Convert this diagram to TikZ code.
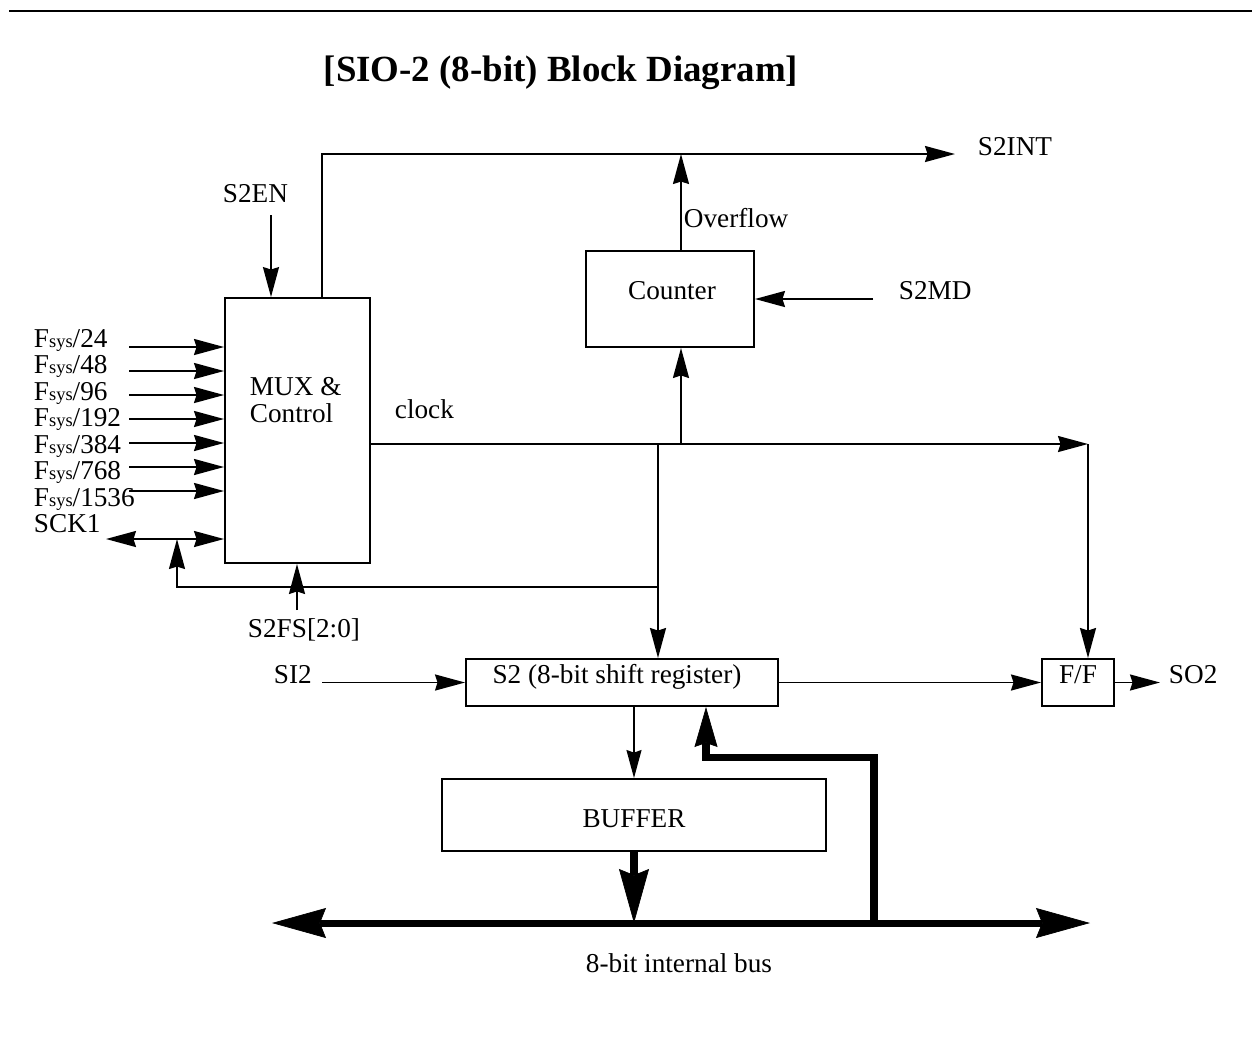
\documentclass[tikz,border=0pt]{standalone}
\usepackage{fontspec}
\setmainfont{Liberation Serif}
\usetikzlibrary{arrows.meta, positioning}
\newcommand{\Fsys}{F{\fontsize{10.5}{12}\selectfont sys}}
\tikzset{
  sighead/.tip={Stealth[length=0.6cm, width=0.32cm, inset=0.05cm]},
  bushead/.tip={Stealth[length=1.08cm, width=0.6cm, inset=0.12cm, line width=0.4pt]},
  rethead/.tip={Stealth[length=0.8cm, width=0.46cm, inset=0.08cm, line width=0.4pt]}
}

\begin{document}
\begin{tikzpicture}[x=0.02cm, y=-0.02cm, line width=1.1pt,
    block/.style={rectangle, draw, line width=1.1pt, inner sep=0pt},
    txt/.style={font=\fontsize{15.5}{18}\selectfont, inner sep=0pt, anchor=base west},
    sig/.style={-sighead},
    thinsig/.style={line width=0.8pt, -{Stealth[length=0.56cm, width=0.3cm, inset=0.05cm]}},
    bus/.style={line width=4pt}
  ]
  \useasboundingbox (0,0) rectangle (1252,1036);

  % rule and title
  \coordinate (rulel) at (9,11);
  \coordinate (ruler) at (1252,11);
  \draw[line width=1pt] (rulel) -- (ruler);
  \node[font=\fontsize{21}{24}\selectfont\bfseries, inner sep=0pt, anchor=base] (title) at (561,81) {[SIO-2 (8-bit) Block Diagram]};

  % blocks
  \node[block, minimum width=2.9cm, minimum height=5.3cm] (mux) at (297.5,430.5) {};
  \node[block, minimum width=3.36cm, minimum height=1.92cm] (counter) at (670,299) {};
  \node[block, minimum width=6.24cm, minimum height=0.94cm] (sreg) at (622,682.5) {};
  \node[block, minimum width=1.44cm, minimum height=0.94cm] (ff) at (1078,682.5) {};
  \node[block, minimum width=7.68cm, minimum height=1.44cm] (buffer) at (634,815) {};

  \node[txt] (muxtxt) at (249,395) {MUX \&};
  \node[txt] (ctltxt) at (249,422) {Control};
  \node[txt, anchor=base] (cnttxt) at (672,299) {Counter};
  \node[txt, anchor=base] (sregtxt) at (617,683) {S2 (8-bit shift register)};
  \node[txt, anchor=base] (fftxt) at (1078,683) {F/F};
  \node[txt, anchor=base] (buftxt) at (634,827) {BUFFER};

  % labels
  \node[txt] (s2en) at (222,202) {S2EN};
  \node[txt] (s2int) at (977,155) {S2INT};
  \node[txt] (ovfl) at (683,227) {Overflow};
  \node[txt] (s2md) at (898,299) {S2MD};
  \node[txt] (clock) at (394,418) {clock};
  \node[txt] (sck1) at (33,532.5) {SCK1};
  \node[txt] (s2fs) at (247,637) {S2FS[2:0]};
  \node[txt] (si2) at (273,683) {SI2};
  \node[txt] (so2) at (1168,683) {SO2};
  \node[txt, anchor=base] (busl) at (679,972) {8-bit internal bus};

  % clock sources
  \foreach \d [count=\i from 0] in {24,48,96,192,384,768,1536} {
    \node[txt] (f\d) at (33,{347+26.5*\i}) {\Fsys/\d};
    \coordinate (in\d) at (129,{347+24*\i});
    \draw[sig] (in\d) -- (in\d -| mux.west);
  }

  % control lines
  \coordinate (enin) at (271,215);
  \draw[sig] (enin) -- (enin |- mux.north);
  \coordinate (intturn) at (322,154);
  \coordinate (intout) at (955,154);
  \draw[sig] (intturn |- mux.north) -- (intturn) -- (intout);
  \coordinate (ovf) at (681,154);
  \draw[sig] (ovf |- counter.north) -- (ovf);
  \coordinate (mdin) at (873,299);
  \draw[sig] (mdin) -- (counter.east);

  % clock
  \coordinate (clkend) at (1088,444);
  \draw[sig] (clkend -| mux.east) -- (clkend);
  \draw[sig] (clkend) -- (clkend |- ff.north);
  \coordinate (cnttap) at (681,444);
  \draw[sig] (cnttap) -- (cnttap |- counter.south);
  \coordinate (srtap) at (658,444);
  \draw[sig] (srtap) -- (srtap |- sreg.north);

  \coordinate (sckend) at (106,539);
  \draw[sighead-sighead] (sckend) -- (sckend -| mux.west);
  \coordinate (fbtap) at (658,587);
  \coordinate (fbturn) at (177,587);
  \draw[sig] (fbtap) -- (fbturn) -- (fbturn |- sckend);
  \coordinate (fsin) at (297,610);
  \draw[sig] (fsin) -- (fsin |- mux.south);

  % data path
  \coordinate (siin) at (322,682.5);
  \draw[sig] (siin) -- (sreg.west);
  \draw[sig] (sreg.east) -- (ff.west);
  \coordinate (soout) at (1160,682.5);
  \draw[sig] (ff.east) -- (soout);
  \draw[thinsig] (buffer.north |- sreg.south) -- (buffer.north);

  % internal bus
  \coordinate (busL) at (272,923);
  \coordinate (busR) at (1090,923);
  \draw[bus, bushead-bushead] (busL) -- (busR);
  \draw[bus, -bushead] (buffer.south) -- (buffer.south |- busL);
  \coordinate (retturn) at (874,757);
  \coordinate (retup) at (706,757);
  \draw[bus, -rethead] (retturn |- busL) -- (retturn) -- (retup) -- (retup |- sreg.south);
\end{tikzpicture}
\end{document}
